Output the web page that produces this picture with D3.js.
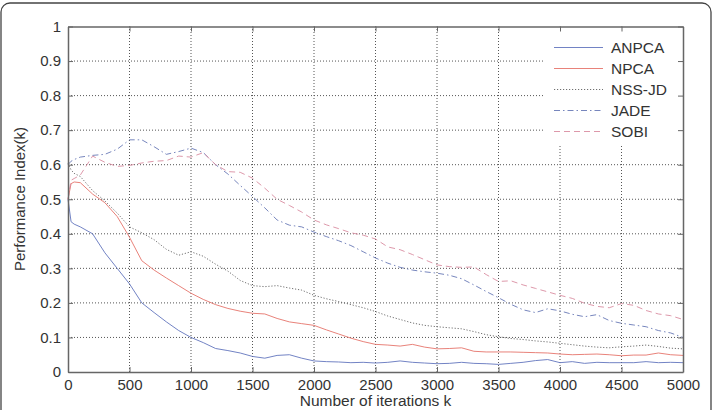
<!DOCTYPE html>
<html>
<head>
<meta charset="utf-8">
<script src="https://cdn.jsdelivr.net/npm/d3@7"></script>
<style>
  body { margin: 0; background: #fff; }
  svg { display: block; font-family: "Liberation Sans", Arial, sans-serif; }
</style>
</head>
<body>
<script>
// iterations shared by all series
const iters = [0, 25, 50, 100, 200, 300, 400, 500, 600, 700, 800, 900, 1000,
  1100, 1200, 1300, 1400, 1500, 1600, 1700, 1800, 1900, 2000,
  2100, 2200, 2300, 2400, 2500, 2600, 2700, 2800, 2900, 3000,
  3100, 3200, 3300, 3400, 3500, 3600, 3700, 3800, 3900, 4000,
  4100, 4200, 4300, 4400, 4500, 4600, 4700, 4800, 4900, 5000];

const anpca = [0.50, 0.435, 0.428, 0.42, 0.40, 0.345, 0.30, 0.255, 0.20, 0.172, 0.145, 0.12, 0.10,
  0.085, 0.068, 0.062, 0.055, 0.045, 0.04, 0.048, 0.05, 0.04, 0.032,
  0.03, 0.029, 0.027, 0.028, 0.026, 0.028, 0.032, 0.028, 0.026, 0.024,
  0.025, 0.028, 0.025, 0.024, 0.022, 0.025, 0.028, 0.033, 0.036, 0.027,
  0.03, 0.025, 0.028, 0.027, 0.027, 0.027, 0.03, 0.027, 0.028, 0.027];

const npca = [0.50, 0.545, 0.55, 0.548, 0.515, 0.49, 0.45, 0.39, 0.322, 0.295, 0.272, 0.25, 0.228,
  0.21, 0.195, 0.184, 0.176, 0.17, 0.168, 0.155, 0.145, 0.14, 0.135,
  0.122, 0.11, 0.098, 0.088, 0.08, 0.078, 0.075, 0.08, 0.072, 0.067,
  0.068, 0.07, 0.06, 0.058, 0.058, 0.058, 0.057, 0.056, 0.055, 0.052,
  0.05, 0.051, 0.052, 0.05, 0.047, 0.049, 0.049, 0.055, 0.05, 0.048];

const nssjd = [0.605, 0.585, 0.575, 0.566, 0.525, 0.495, 0.46, 0.42, 0.403, 0.383, 0.355, 0.338, 0.348,
  0.335, 0.312, 0.292, 0.265, 0.25, 0.247, 0.25, 0.243, 0.237, 0.222,
  0.212, 0.204, 0.195, 0.186, 0.175, 0.162, 0.152, 0.142, 0.135, 0.131,
  0.128, 0.125, 0.117, 0.108, 0.102, 0.097, 0.094, 0.09, 0.087, 0.083,
  0.079, 0.075, 0.072, 0.07, 0.073, 0.075, 0.078, 0.074, 0.069, 0.067];

const jade = [0.60, 0.61, 0.615, 0.622, 0.627, 0.63, 0.645, 0.672, 0.672, 0.652, 0.63, 0.638, 0.648,
  0.635, 0.60, 0.573, 0.54, 0.508, 0.475, 0.44, 0.425, 0.42, 0.405,
  0.392, 0.38, 0.366, 0.348, 0.33, 0.315, 0.303, 0.295, 0.29, 0.286,
  0.28, 0.27, 0.252, 0.233, 0.215, 0.196, 0.18, 0.172, 0.183, 0.177,
  0.167, 0.16, 0.166, 0.149, 0.141, 0.136, 0.131, 0.12, 0.113, 0.10];

const sobi = [0.50, 0.555, 0.56, 0.57, 0.625, 0.607, 0.595, 0.598, 0.605, 0.61, 0.612, 0.625, 0.622,
  0.635, 0.60, 0.58, 0.578, 0.561, 0.532, 0.50, 0.482, 0.463, 0.44,
  0.426, 0.415, 0.403, 0.396, 0.385, 0.362, 0.354, 0.34, 0.325, 0.31,
  0.305, 0.303, 0.304, 0.282, 0.262, 0.264, 0.252, 0.242, 0.232, 0.222,
  0.213, 0.199, 0.19, 0.186, 0.198, 0.193, 0.178, 0.168, 0.163, 0.152];

const seriesNames = ["ANPCA", "NPCA", "NSS-JD", "JADE", "SOBI"];
const seriesValues = [anpca, npca, nssjd, jade, sobi];
const seriesColors = ["#6275bd", "#e5746b", "#606060", "#6878b6", "#d98ca0"];
const seriesDash = [null, null, "1.2,1.8", "6,3,1.5,3", "6,4"];

const xTicks = d3.range(0, 5001, 500);
const yTicks = d3.range(0, 11).map(d => d / 10);

const width = 713, height = 410;
const svg = d3.select("body").append("svg")
  .attr("width", width).attr("height", height);

// outer frame
svg.append("rect")
  .attr("x", 1).attr("y", 3).attr("width", 710).attr("height", 420)
  .attr("rx", 9)
  .attr("fill", "none").attr("stroke", "#444").attr("stroke-width", 1.3);

const x = d3.scaleLinear().domain([0, 5000]).range([68, 683]);
const y = d3.scaleLinear().domain([0, 1]).range([372, 26.5]);

// grid
const grid = svg.append("g").attr("stroke", "#555").attr("stroke-width", 1)
  .attr("stroke-dasharray", "1,2");
grid.selectAll(".gx").data(xTicks.slice(1, -1)).join("line")
  .attr("x1", d => x(d)).attr("x2", d => x(d))
  .attr("y1", y(0)).attr("y2", y(1));
grid.selectAll(".gy").data(yTicks.slice(1, -1)).join("line")
  .attr("x1", x(0)).attr("x2", x(5000))
  .attr("y1", d => y(d)).attr("y2", d => y(d));

// series
const line = d3.line().x((d, i) => x(iters[i])).y(d => y(d));
seriesValues.forEach((vals, i) => {
  svg.append("path")
    .datum(vals)
    .attr("d", line)
    .attr("fill", "none")
    .attr("stroke", seriesColors[i])
    .attr("stroke-width", 0.9)
    .attr("stroke-dasharray", seriesDash[i]);
});

// legend
const leg = svg.append("g");
leg.append("rect")
  .attr("x", 543).attr("y", y(1)).attr("width", x(5000) - 543).attr("height", 145 - y(1))
  .attr("fill", "#fff");
seriesNames.forEach((name, i) => {
  const ly = 47.5 + i * 21;
  leg.append("line")
    .attr("x1", 554).attr("x2", 603).attr("y1", ly).attr("y2", ly)
    .attr("stroke", seriesColors[i]).attr("stroke-width", 0.9)
    .attr("stroke-dasharray", seriesDash[i]);
  leg.append("text")
    .attr("x", 611).attr("y", ly + 5.5)
    .attr("font-size", 15.5).attr("fill", "#333")
    .text(name);
});

// axes with inward ticks
function styleAxis(g) {
  g.select(".domain").attr("stroke", "#666").attr("stroke-width", 1.5);
  g.selectAll(".tick line").attr("stroke", "#666");
  g.selectAll(".tick text").attr("fill", "#333").attr("font-size", 15)
    .attr("font-family", "Liberation Sans, Arial, sans-serif");
}
svg.append("g").attr("transform", `translate(0,${y(0)})`)
  .call(d3.axisBottom(x).tickValues(xTicks).tickFormat(d3.format("d"))
    .tickSizeInner(-5).tickSizeOuter(0).tickPadding(7))
  .call(styleAxis);
svg.append("g").attr("transform", `translate(${x(0)},0)`)
  .call(d3.axisLeft(y).tickValues(yTicks).tickFormat(d => d === 0 || d === 1 ? d3.format("d")(d) : d3.format(".1f")(d))
    .tickSizeInner(-5).tickSizeOuter(0).tickPadding(7))
  .call(styleAxis);
svg.append("g").attr("transform", `translate(0,${y(1)})`)
  .call(d3.axisTop(x).tickValues(xTicks).tickFormat("").tickSizeInner(-5).tickSizeOuter(0))
  .call(styleAxis);
svg.append("g").attr("transform", `translate(${x(5000)},0)`)
  .call(d3.axisRight(y).tickValues(yTicks).tickFormat("").tickSizeInner(-5).tickSizeOuter(0))
  .call(styleAxis);

// axis titles
svg.append("text")
  .attr("x", (x(0) + x(5000)) / 2).attr("y", 406)
  .attr("text-anchor", "middle").attr("font-size", 15.5).attr("fill", "#333")
  .text("Number of iterations k");
svg.append("text")
  .attr("transform", "translate(25,199) rotate(-90)")
  .attr("text-anchor", "middle").attr("font-size", 15).attr("fill", "#333")
  .text("Performance Index(k)");
</script>
</body>
</html>
